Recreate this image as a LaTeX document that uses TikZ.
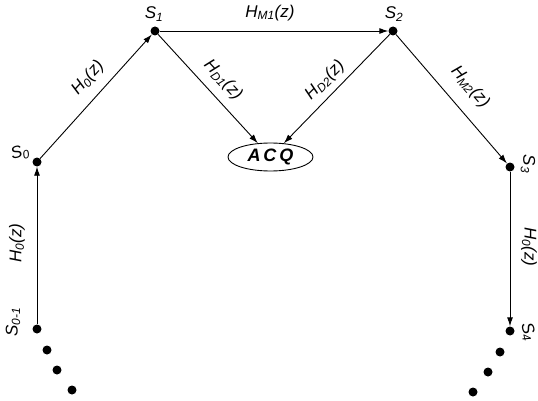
\documentclass[tikz,border=0pt]{standalone}
\usepackage{fontspec}
\setmainfont{Liberation Sans}
\usetikzlibrary{arrows.meta,shapes.geometric}
\newcommand{\lbl}[2]{\textit{#1}\textsubscript{\textit{#2}}}
\begin{document}
\begin{tikzpicture}[x=1pt,y=-1pt,
  dot/.style={circle,fill=black,inner sep=0pt,minimum size=9pt},
  arr/.style={-{Latex[length=9pt,width=6pt]},line width=0.9pt},
  txt/.style={font=\fontsize{17}{19}\selectfont\itshape,inner sep=0pt},
  acqbox/.style={ellipse,draw,line width=0.9pt,minimum width=85pt,minimum height=28pt,inner sep=0pt,font=\fontsize{18}{20}\selectfont\bfseries\itshape}]
\useasboundingbox (0,0) rectangle (538,401);
% main nodes
\node[dot] (s1) at (155,31) {};
\node[dot] (s2) at (393,31) {};
\node[dot] (s0) at (37,162) {};
\node[dot] (sm1) at (37,329) {};
\node[dot] (s3) at (510,167) {};
\node[dot] (s4) at (510,331) {};
\node[acqbox] (acq) at (270.5,157) {A\,C\,Q};
% trailing dots
\node[dot] (d1) at (47,350) {};
\node[dot] (d2) at (57,370) {};
\node[dot] (d3) at (72,390) {};
\node[dot] (e1) at (500,352) {};
\node[dot] (e2) at (488,372) {};
\node[dot] (e3) at (473,392) {};
% connectors
\draw[arr] (sm1) -- (s0);
\draw[arr] (s0) -- (s1);
\draw[arr] (s1) -- (s2);
\draw[arr] (s1) -- (acq);
\draw[arr] (s2) -- (acq);
\draw[arr] (s2) -- (s3);
\draw[arr] (s3) -- (s4);
% node labels
\node[txt] (ls1) at (154,14) {\lbl{S}{1}};
\node[txt] (ls2) at (394,14) {\lbl{S}{2}};
\begin{scope}[transform canvas={shift={(20,153)},rotate=15}]
\node[txt] (ls0) at (0,0) {\lbl{S}{0}};
\end{scope}
\begin{scope}[transform canvas={shift={(13,322)},rotate=90}]
\node[txt] (lsm1) at (0,0) {\lbl{S}{0-1}};
\end{scope}
\begin{scope}[transform canvas={shift={(528,164)},rotate=-90}]
\node[txt] (ls3) at (0,0) {\lbl{S}{3}};
\end{scope}
\begin{scope}[transform canvas={shift={(528,332)},rotate=-75}]
\node[txt] (ls4) at (0,0) {\lbl{S}{4}};
\end{scope}
% edge labels
\node[txt,rotate=48] (h0a) at (88,78) {\lbl{H}{0}(z)};
\node[txt] (hm1) at (270,13) {\lbl{H}{M1}(z)};
\node[txt,rotate=-47] (hd1) at (223,80) {\lbl{H}{D1}(z)};
\node[txt,rotate=45] (hd2) at (325,80) {\lbl{H}{D2}(z)};
\node[txt,rotate=-49] (hm2) at (470,87) {\lbl{H}{M2}(z)};
\node[txt,rotate=90] (h0b) at (17,243) {\lbl{H}{0}(z)};
\node[txt,rotate=-90] (h0c) at (529,247) {\lbl{H}{0}(z)};
\end{tikzpicture}
\end{document}
